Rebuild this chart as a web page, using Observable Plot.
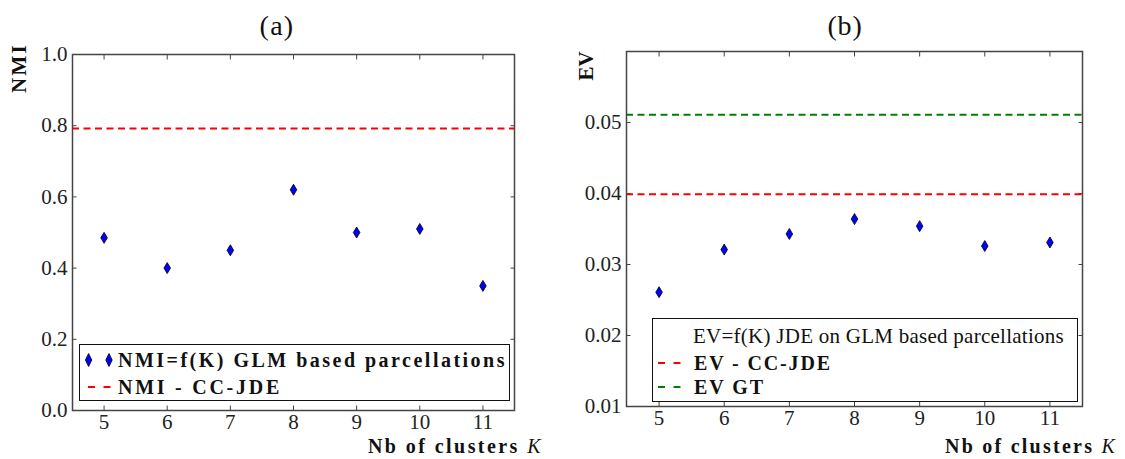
<!DOCTYPE html>
<html>
<head>
<meta charset="utf-8">
<script src="https://cdn.jsdelivr.net/npm/d3@7"></script>
<script src="https://cdn.jsdelivr.net/npm/@observablehq/plot@0.6"></script>
<style>
  body { margin: 0; background: #fff; }
  #root { position: relative; width: 1125px; height: 459px; color: #111; overflow: hidden; background: #fff; }
  .abs { position: absolute; white-space: nowrap; line-height: 1; }
  .panel { position: absolute; top: 0; }
  .legend { position: absolute; border: 1.5px solid #111; box-sizing: border-box; background: #fff; }
</style>
</head>
<body>
<div id="root"></div>
<script>
// ---- data ----
const clusters = [5, 6, 7, 8, 9, 10, 11];
const nmiValues = [0.485, 0.40, 0.45, 0.62, 0.50, 0.51, 0.35];
const nmiCCJDE = 0.792;
const evValues = [0.0261, 0.0321, 0.0343, 0.0364, 0.0354, 0.0326, 0.0331];
const evCCJDE = 0.0399;
const evGT = 0.0511;
const nmiTicks = [0, 0.2, 0.4, 0.6, 0.8, 1.0];
const evTicks = [0.01, 0.02, 0.03, 0.04, 0.05];
const kTicks = [5, 6, 7, 8, 9, 10, 11];

const nmiData = clusters.map((k, i) => ({K: k, v: nmiValues[i]}));
const evData = clusters.map((k, i) => ({K: k, v: evValues[i]}));

const FONT = '"Liberation Serif", "Times New Roman"';

// thin diamond (matplotlib 'd')
const thinDiamond = {
  draw(ctx, size) {
    const r = Math.sqrt(size / Math.PI);
    const w = r * 0.6;
    ctx.moveTo(0, -r); ctx.lineTo(w, 0); ctx.lineTo(0, r); ctx.lineTo(-w, 0); ctx.closePath();
  }
};

const FRAME = "#444";
function axes(yTicks, yFmt) {
  return [
    Plot.axisY(yTicks, {anchor: "left", tickSize: 0, tickPadding: 5, tickFormat: yFmt, label: null, fontSize: 21, fill: "#222"}),
    Plot.axisY(yTicks, {anchor: "left", tickSize: -4.5, tickFormat: () => "", label: null, stroke: FRAME}),
    Plot.axisY(yTicks, {anchor: "right", tickSize: -4.5, tickFormat: () => "", label: null, stroke: FRAME}),
    Plot.axisX(kTicks, {anchor: "bottom", tickSize: 0, tickPadding: 4, tickFormat: d => String(d), label: null, fontSize: 21, fill: "#222"}),
    Plot.axisX(kTicks, {anchor: "bottom", tickSize: -4.5, tickFormat: () => "", label: null, stroke: FRAME}),
    Plot.axisX(kTicks, {anchor: "top", tickSize: -4.5, tickFormat: () => "", label: null, stroke: FRAME})
  ];
}

const style = {fontFamily: FONT, fontSize: "21px", background: "transparent", color: "#222", overflow: "visible"};

const left = Plot.plot({
  width: 560, height: 459,
  marginLeft: 72, marginRight: 46, marginTop: 54, marginBottom: 49,
  x: {domain: [4.5, 11.5]},
  y: {domain: [0, 1]},
  style,
  marks: [
    ...axes(nmiTicks, d => d.toFixed(1)),
    Plot.ruleY([nmiCCJDE], {stroke: "#ff0000", strokeWidth: 2, strokeDasharray: "7,4.5"}),
    Plot.dot(nmiData, {x: "K", y: "v", symbol: thinDiamond, r: 5.5, fill: "#0000ff", stroke: "#000", strokeWidth: 0.8}),
    Plot.frame({stroke: FRAME, strokeWidth: 1.5})
  ]
});

const right = Plot.plot({
  width: 565, height: 459,
  marginLeft: 66, marginRight: 43, marginTop: 51, marginBottom: 53,
  x: {domain: [4.5, 11.5]},
  y: {domain: [0.01, 0.06]},
  style,
  marks: [
    ...axes(evTicks, d => d.toFixed(2)),
    Plot.ruleY([evCCJDE], {stroke: "#ff0000", strokeWidth: 2, strokeDasharray: "7,4.5"}),
    Plot.ruleY([evGT], {stroke: "#008000", strokeWidth: 2, strokeDasharray: "7,4.5"}),
    Plot.dot(evData, {x: "K", y: "v", symbol: thinDiamond, r: 5.5, fill: "#0000ff", stroke: "#000", strokeWidth: 0.8}),
    Plot.frame({stroke: FRAME, strokeWidth: 1.5})
  ]
});

for (const svg of [left, right]) {
  svg.style.fontFamily = FONT;
  svg.querySelectorAll("text, g").forEach(t => { t.style.fontFamily = FONT; });
}

const root = document.getElementById("root");
root.style.fontFamily = FONT;
const pL = document.createElement("div"); pL.className = "panel"; pL.style.left = "0px"; pL.appendChild(left); root.appendChild(pL);
const pR = document.createElement("div"); pR.className = "panel"; pR.style.left = "560px"; pR.appendChild(right); root.appendChild(pR);

function addText(html, x, y, opts = {}) {
  const d = document.createElement("div");
  d.className = "abs";
  d.innerHTML = html;
  d.style.fontFamily = FONT;
  d.style.left = x + "px"; d.style.top = y + "px";
  d.style.fontSize = (opts.size || 21) + "px";
  if (opts.bold) d.style.fontWeight = "bold";
  root.appendChild(d);
  if (opts.width) {
    const w = d.getBoundingClientRect().width;
    const n = d.textContent.length;
    d.style.letterSpacing = ((opts.width - w) / n) + "px";
  }
  const ax = opts.anchor === "end" ? "-100%" : opts.anchor === "start" ? "0" : "-50%";
  d.style.transform = `translate(${ax},-50%)` + (opts.rotate ? ` rotate(${opts.rotate}deg)` : "");
  return d;
}

// titles
addText("(a)", 277, 26, {size: 28, width: 35});
addText("(b)", 845, 26, {size: 28, width: 35});
// y labels
addText("NMI", 19, 68, {bold: true, size: 21, width: 50, rotate: -90});
addText("EV", 586, 66, {bold: true, size: 21, width: 29, rotate: -90});
// x labels
addText('Nb of clusters <i style="font-weight:normal">K</i>', 543, 446, {bold: true, size: 20, width: 175, anchor: "end"});
addText('Nb of clusters <i style="font-weight:normal">K</i>', 1117, 446, {bold: true, size: 20, width: 172, anchor: "end"});

// legends
function box(x, y, w, h) {
  const d = document.createElement("div");
  d.className = "legend";
  Object.assign(d.style, {left: x + "px", top: y + "px", width: w + "px", height: h + "px"});
  root.appendChild(d);
}
function svgSym(x, y, inner) {
  const d = document.createElement("div");
  d.className = "abs";
  d.style.left = x + "px"; d.style.top = y + "px";
  d.innerHTML = `<svg width="30" height="20" style="display:block">${inner}</svg>`;
  root.appendChild(d);
}
const diamond = cx => `<path d="M${cx},3.5 L${cx + 3.2},10 L${cx},16.5 L${cx - 3.2},10 Z" fill="#0000ff" stroke="#000" stroke-width="0.8"/>`;
const dash = c => `<line x1="0" y1="10" x2="23" y2="10" stroke="${c}" stroke-width="2" stroke-dasharray="7,8.5"/>`;

box(79, 344, 431, 57);
svgSym(84, 350, diamond(4.6) + diamond(25));
addText("NMI=f(K) GLM based parcellations", 118, 360, {bold: true, size: 20, width: 389, anchor: "start"});
svgSym(87.7, 377, dash("#ff0000"));
addText("NMI - CC-JDE", 118, 387, {bold: true, size: 20, width: 164, anchor: "start"});

box(652, 318, 426, 84);
addText("EV=f(K) JDE on GLM based parcellations", 693, 336, {size: 21, width: 371, anchor: "start"});
svgSym(658, 353, dash("#ff0000"));
addText("EV - CC-JDE", 694, 363, {bold: true, size: 20, width: 138, anchor: "start"});
svgSym(658, 377, dash("#008000"));
addText("EV GT", 694, 387, {bold: true, size: 20, width: 71, anchor: "start"});
</script>
</body>
</html>
